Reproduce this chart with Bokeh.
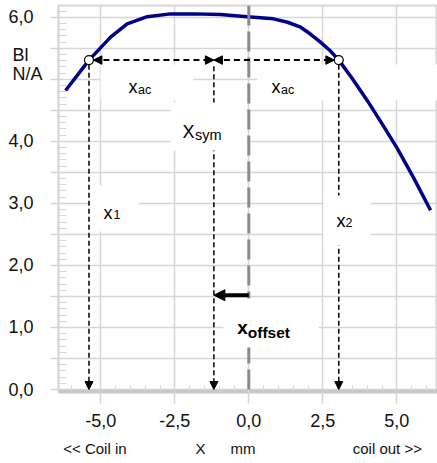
from bokeh.plotting import figure
from bokeh.models import (Range1d, FixedTicker, LinearAxis, Arrow, NormalHead,
                          BoxAnnotation, Span, Label)
from bokeh.embed import file_html
from bokeh.resources import INLINE

# Force factor Bl (N/A) versus voice-coil position X (mm)
bl_x = [-6.19, -5.40, -4.67, -4.11, -3.43, -2.65, -1.87, -0.96, -0.05, 0.83,
        1.31, 1.75, 2.08, 2.42, 2.74, 3.04, 3.50, 4.00, 4.52, 5.01, 5.56, 6.14]
bl_y = [4.82, 5.31, 5.68, 5.895, 6.01, 6.055, 6.055, 6.045, 6.01, 5.975,
        5.92, 5.84, 5.73, 5.60, 5.465, 5.31, 5.01, 4.66, 4.27, 3.89, 3.42, 2.89]

# Positions where Bl falls to the threshold level, and the derived values
x1 = -5.40
x2 = 3.04
bl_level = 5.31
x_sym = (x1 + x2) / 2.0
offset_arrow_y = 1.52

y_tick_values = [0.0, 1.0, 2.0, 3.0, 4.0, 6.0]
y_tick_labels = ["0,0", "1,0", "2,0", "3,0", "4,0", "6,0"]
y_title_pos = [5.385, 5.078]
y_title_text = ["Bl", "N/A"]
x_tick_values = [-5.0, -2.5, 0.0, 2.5, 5.0]
x_tick_labels = ["-5,0", "-2,5", "0,0", "2,5", "5,0"]
caption_x = [-5.2, -1.63, -0.2, 4.68]
caption_text = ["<< Coil in", "X", "mm", "coil out >>"]

FONT = "Liberation Sans"
GRID = "#d6d6d6"
CURVE = "#000088"
EN = "\u2002"
NBSP = "\u00a0"

p = figure(width=437, height=463,
           x_range=Range1d(-6.43, 6.375), y_range=Range1d(-0.032, 6.19),
           output_backend="svg", toolbar_location=None,
           min_border_left=58, min_border_right=0,
           min_border_top=5, min_border_bottom=72)
p.outline_line_color = GRID
p.outline_line_width = 2
p.background_fill_color = "white"
p.border_fill_color = "white"

# y axis (tick marks only): outer ticks every 0.5, small inner ticks every 0.1
y_major = [i * 0.5 for i in range(13)]
y_minor = [round(i * 0.1, 1) for i in range(62) if i % 5]
yax = p.yaxis[0]
yax.ticker = FixedTicker(ticks=y_major, minor_ticks=y_minor)
yax.major_label_overrides = {v: "" for v in y_major}
yax.axis_line_color = GRID
yax.axis_line_width = 1.5
yax.major_tick_line_color = GRID
yax.major_tick_line_width = 1.5
yax.major_tick_out = 8
yax.major_tick_in = 0
yax.minor_tick_line_color = GRID
yax.minor_tick_in = 8
yax.minor_tick_out = 0
yax.major_label_standoff = 0
yax.major_label_text_font_size = "1px"
p.ygrid.ticker = FixedTicker(ticks=y_major)

# y tick labels plus the quantity/unit, in one text column left of the ticks
label_ticks = y_tick_values + y_title_pos
label_text = [t + EN for t in y_tick_labels] + [y_title_text[0] + EN + NBSP, y_title_text[1]]
ylab = LinearAxis(ticker=FixedTicker(ticks=label_ticks),
                  major_label_overrides=dict(zip(label_ticks, label_text)),
                  axis_line_color=None, major_tick_line_color=None,
                  minor_tick_line_color=None,
                  major_tick_in=0, major_tick_out=0,
                  minor_tick_in=0, minor_tick_out=0,
                  major_label_standoff=8,
                  major_label_text_font=FONT,
                  major_label_text_font_size="18px",
                  major_label_text_color="#111111")
p.add_layout(ylab, "left")

# x axis: thick grey base line, small upward ticks every 0.5
xax = p.xaxis[0]
xax.ticker = FixedTicker(ticks=x_tick_values,
                         minor_ticks=[i * 0.5 for i in range(-12, 13)])
xax.major_label_overrides = dict(zip(x_tick_values, x_tick_labels))
xax.axis_line_color = "#c8c8c8"
xax.axis_line_width = 4
xax.major_tick_line_color = GRID
xax.major_tick_line_width = 1.5
xax.major_tick_out = 12
xax.major_tick_in = 0
xax.minor_tick_line_color = GRID
xax.minor_tick_in = 6
xax.minor_tick_out = 0
xax.major_label_text_font = FONT
xax.major_label_text_font_size = "18px"
xax.major_label_text_color = "#111111"
xax.major_label_standoff = 10
p.xgrid.ticker = FixedTicker(ticks=x_tick_values)

# caption row below the tick labels
cap_axis = LinearAxis(ticker=FixedTicker(ticks=caption_x),
                      major_label_overrides=dict(zip(caption_x, caption_text)),
                      axis_line_color=None, major_tick_line_color=None,
                      minor_tick_line_color=None,
                      major_tick_in=0, major_tick_out=0,
                      minor_tick_in=0, minor_tick_out=0,
                      major_label_standoff=10,
                      major_label_text_font=FONT,
                      major_label_text_font_size="15px",
                      major_label_text_color="#111111")
p.add_layout(cap_axis, "below")

for g in (p.xgrid, p.ygrid):
    g.grid_line_color = GRID
    g.grid_line_width = 1.5

# white backing behind the x_ac labels
p.quad(left=[-5.01, 0.29], right=[-1.87, 6.4], bottom=[4.66, 4.66], top=[5.24, 5.24],
       fill_color="white", line_color=None)

# Bl(X) curve
p.line(bl_x, bl_y, line_color=CURVE, line_width=3.5, line_join="round")
p.scatter([x1, x2], [bl_level, bl_level], size=9, fill_color="white",
          line_color="black", line_width=1.2, level="overlay")

# drop lines from the threshold points and the symmetry point
circ_dy = 0.075
for xv, y0 in ((x1, bl_level - circ_dy), (x2, bl_level - circ_dy), (x_sym, bl_level - 0.1)):
    p.add_layout(Arrow(x_start=xv, y_start=y0, x_end=xv, y_end=0.0,
                       line_color="black", line_width=1.5, line_dash="5 3",
                       end=NormalHead(size=8, fill_color="black", line_color="black"),
                       start=None))

def white_box(left, right, bottom, top):
    return BoxAnnotation(left=left, right=right, bottom=bottom, top=top,
                         fill_color="white", fill_alpha=1.0, line_alpha=0.0)

p.add_layout(white_box(-2.645, -0.07, 3.853, 4.627))   # X_sym
p.add_layout(white_box(-5.36, -3.73, 2.547, 3.289))    # x1
p.add_layout(white_box(2.527, 4.11, 2.321, 3.128))     # x2

# zero-offset reference at X = 0
p.add_layout(Span(location=0.0, dimension="height", line_color="#8a8a8a",
                  line_width=3, line_dash="20 6"))

p.add_layout(white_box(-0.855, 2.355, 0.677, 1.467))   # x_offset

# x_ac spans on both sides of the symmetry point
gap = 0.15
for xs, xe in ((x1 + gap, x_sym), (x_sym, x2 - gap)):
    p.add_layout(Arrow(x_start=xs, y_start=bl_level, x_end=xe, y_end=bl_level,
                       line_color="black", line_width=2, line_dash="6 4",
                       start=NormalHead(size=8.5, fill_color="black", line_color="black"),
                       end=NormalHead(size=8.5, fill_color="black", line_color="black")))

# x_offset: from X = 0 to the symmetry point
p.add_layout(Arrow(x_start=0.0, y_start=offset_arrow_y, x_end=x_sym, y_end=offset_arrow_y,
                   line_color="black", line_width=4, start=None,
                   end=NormalHead(size=11, fill_color="black", line_color="black")))

def sub_label(x, y, main, sub, y_sub, size, sub_size, shift, bold=False):
    style = "bold" if bold else "normal"
    p.add_layout(Label(x=x, y=y, text=main, text_font=FONT, text_font_size=size,
                       text_font_style=style, text_color="black",
                       text_align="left", text_baseline="alphabetic"))
    p.add_layout(Label(x=x, y=y_sub, x_offset=shift, text=sub, text_font=FONT,
                       text_font_size=sub_size, text_font_style=style, text_color="black",
                       text_align="left", text_baseline="alphabetic"))

sub_label(-4.064, 4.869, "x", "ac", 4.820, "18px", "12.5px", 9.5)
sub_label(0.767, 4.869, "x", "ac", 4.820, "18px", "12.5px", 9.5)
sub_label(-2.240, 4.143, "X", "sym", 4.103, "18px", "14.5px", 12.5)
sub_label(-4.909, 2.853, "x", "1", 2.829, "18px", "12.5px", 10.0)
sub_label(2.963, 2.724, "x", "2", 2.692, "18px", "12.5px", 9.0)
sub_label(-0.392, 1.0, "x", "offset", 0.924, "19px", "15.5px", 10.6, bold=True)

open("out.html", "w").write(file_html(p, INLINE))
